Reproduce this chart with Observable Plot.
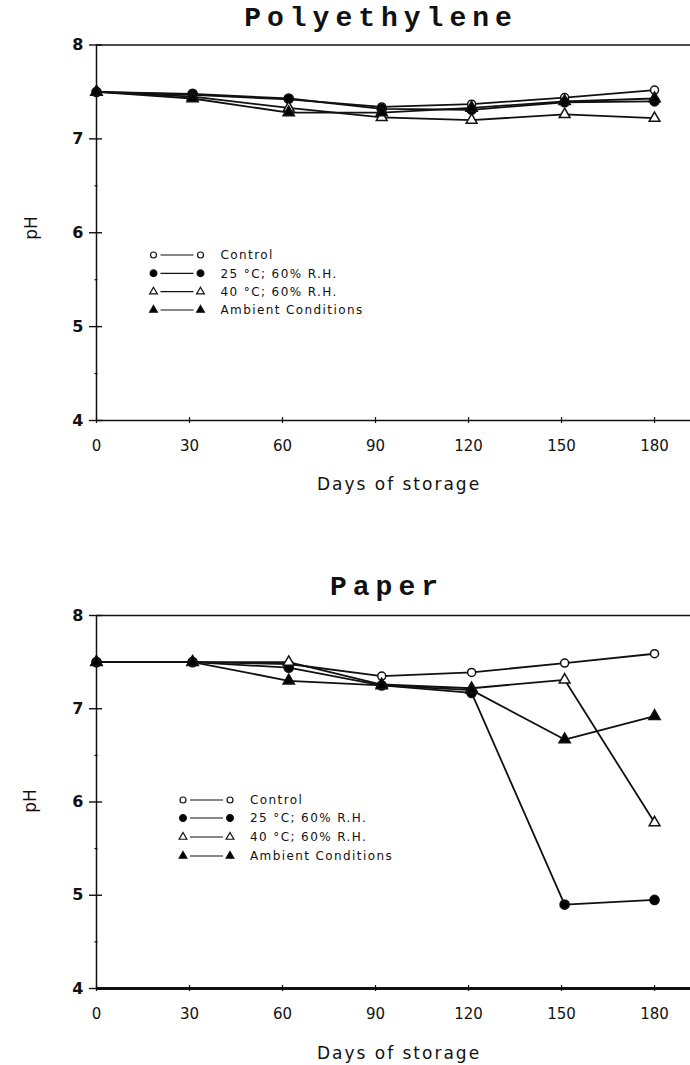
<!DOCTYPE html>
<html><head><meta charset="utf-8">
<script src="https://cdn.jsdelivr.net/npm/d3@7"></script>
<script src="https://cdn.jsdelivr.net/npm/@observablehq/plot@0.6"></script>
<style>
body{margin:0;background:#fff;}
#page{position:relative;width:690px;height:1065px;overflow:hidden;background:#fff;font-family:"DejaVu Sans",sans-serif;color:#111;}
.title{position:absolute;font-family:"Liberation Mono",monospace;font-weight:bold;font-size:28px;letter-spacing:6px;transform:translate(-50%,-50%);white-space:nowrap;}
.xl{position:absolute;font-size:17px;letter-spacing:2px;transform:translate(-50%,-50%);white-space:nowrap;}
.yl{position:absolute;font-size:17px;transform:translate(-50%,-50%) rotate(-90deg);white-space:nowrap;}
.chart{position:absolute;left:0;}
#legend{position:absolute;left:0;top:0;}
</style></head><body><div id="page"></div>
<script>
// ---- data ----
const days = [0, 31, 62, 92, 121, 151, 180];
const seriesNames = ["Control", "25 °C; 60% R.H.", "40 °C; 60% R.H.", "Ambient Conditions"];
const xTicks = [0, 30, 60, 90, 120, 150, 180];
const yTicks = [4, 5, 6, 7, 8];
const yMinorTicks = [4.5, 5.5, 6.5, 7.5];

const polyControl = [7.50, 7.47, 7.42, 7.34, 7.37, 7.44, 7.52];
const poly25      = [7.50, 7.48, 7.43, 7.32, 7.31, 7.39, 7.40];
const poly40      = [7.50, 7.45, 7.33, 7.23, 7.20, 7.26, 7.22];
const polyAmb     = [7.50, 7.43, 7.28, 7.28, 7.33, 7.40, 7.43];

const paperControl = [7.50, 7.50, 7.48, 7.35, 7.39, 7.49, 7.59];
const paper25      = [7.50, 7.50, 7.44, 7.25, 7.17, 4.90, 4.95];
const paper40      = [7.50, 7.50, 7.50, 7.26, 7.22, 7.31, 5.78];
const paperAmb     = [7.50, 7.50, 7.30, 7.25, 7.20, 6.67, 6.92];

const styles = [
  {symbol: "circle", fill: "white", r: 4},
  {symbol: "circle", fill: "black", r: 4.6},
  {symbol: "triangle", fill: "white", r: 4},
  {symbol: "triangle", fill: "black", r: 4.2}
];

function toRows(arrs) {
  const rows = [];
  arrs.forEach((vals, si) => vals.forEach((v, i) => rows.push({day: days[i], ph: v, series: seriesNames[si], si})));
  return rows;
}

const page = document.getElementById("page");

function makeChart(rows, top, mTop, plotBottom, baseWidth) {
  const marginBottom = 50;
  const height = plotBottom - top + marginBottom;
  const chart = Plot.plot({
    width: 690,
    height,
    marginTop: mTop,
    marginLeft: 96,
    marginRight: 0,
    marginBottom,
    style: {fontFamily: "DejaVu Sans, sans-serif", background: "transparent", color: "#111"},
    x: {domain: [0, 191.6], label: null},
    y: {domain: [4, 8], label: null},
    marks: [
      Plot.ruleY([8], {stroke: "#111", strokeWidth: 1.5}),
      Plot.ruleY([4], {stroke: "#111", strokeWidth: baseWidth}),
      Plot.ruleX([0], {stroke: "#111", strokeWidth: 1.5}),
      Plot.axisY({ticks: yTicks, tickSize: 7, tickPadding: 6, tickFormat: d3.format("d"), fontSize: 16, fontWeight: "bold", strokeWidth: 1.4}),
      Plot.axisY({ticks: yTicks, tickSize: 6, dx: 6, tickFormat: () => "", strokeWidth: 1.4}),
      Plot.axisY({ticks: yMinorTicks, tickSize: 3, dx: 1.5, tickFormat: () => "", strokeWidth: 1.2}),
      Plot.axisX({ticks: xTicks, tickSize: 3, tickPadding: 17, tickFormat: d3.format("d"), fontSize: 15, strokeWidth: 1.2}),
      Plot.axisX({ticks: xTicks, tickSize: 3, dy: -3, tickFormat: () => "", strokeWidth: 1.2}),
      Plot.line(rows, {x: "day", y: "ph", z: "series", stroke: "#111", strokeWidth: 1.8}),
      ...styles.map((s, si) => Plot.dot(rows.filter(d => d.si === si), {
        x: "day", y: "ph", symbol: s.symbol, r: s.r, fill: s.fill, stroke: "#111", strokeWidth: 1.5
      }))
    ]
  });
  chart.classList.add("chart");
  chart.style.top = top + "px";
  page.appendChild(chart);
}

makeChart(toRows([polyControl, poly25, poly40, polyAmb]), 0, 44.5, 420, 1.5);
makeChart(toRows([paperControl, paper25, paper40, paperAmb]), 570, 45, 988, 3);

function addText(cls, text, x, y) {
  const d = document.createElement("div");
  d.className = cls;
  d.textContent = text;
  d.style.left = x + "px";
  d.style.top = y + "px";
  page.appendChild(d);
}
addText("title", "Polyethylene", 381, 18);
addText("title", "Paper", 387, 587);
addText("xl", "Days of storage", 399, 484);
addText("xl", "Days of storage", 399, 1053);
addText("yl", "pH", 31, 228);
addText("yl", "pH", 30, 801);

// ---- legends ----
const svg = d3.select(page).append("svg").attr("id", "legend").attr("width", 690).attr("height", 1065);
function legend(x0, ys) {
  ys.forEach((y, i) => {
    const s = styles[i];
    const g = svg.append("g");
    const sym = s.symbol === "circle" ? d3.symbolCircle : d3.symbolTriangle;
    const size = s.symbol === "circle" ? (s.fill === "white" ? 28 : 36) : 26;
    [x0, x0 + 47].forEach(cx => {
      g.append("path").attr("d", d3.symbol(sym, size)()).attr("transform", `translate(${cx},${y})`)
        .attr("fill", s.fill).attr("stroke", "#111").attr("stroke-width", 1.2);
    });
    g.append("line").attr("x1", x0 + 7).attr("x2", x0 + 40).attr("y1", y).attr("y2", y).attr("stroke", "#111").attr("stroke-width", 1.2);
    g.append("text").attr("x", x0 + 67).attr("y", y).attr("dy", "0.35em")
      .attr("font-family", "DejaVu Sans, sans-serif").attr("font-size", 12).attr("letter-spacing", 1.4)
      .attr("fill", "#111").text(seriesNames[i]);
  });
}
legend(153.5, [255, 273.3, 291.7, 310]);
legend(183, [800, 818, 837, 856]);
</script></body></html>
